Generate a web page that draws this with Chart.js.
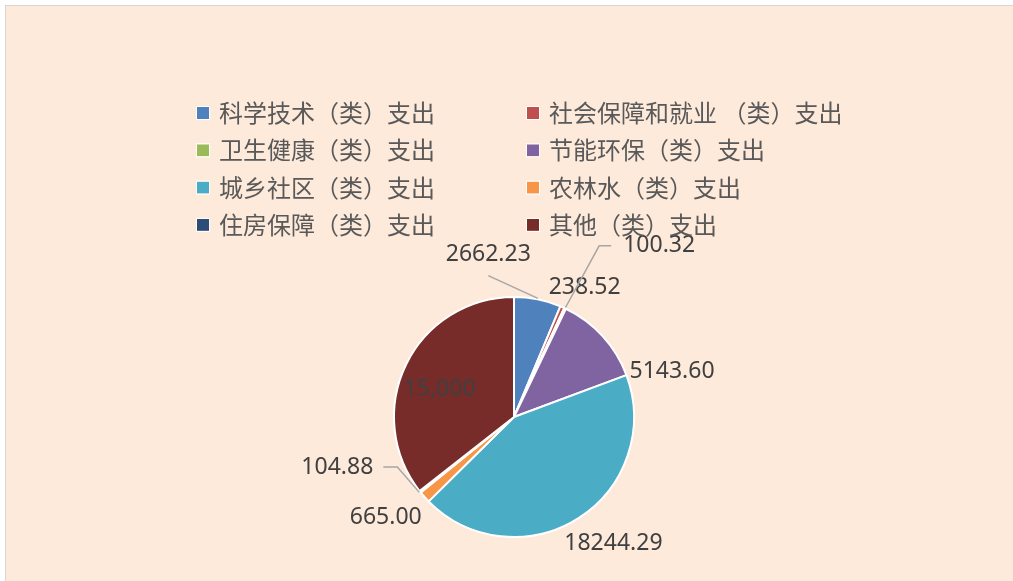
<!DOCTYPE html>
<html>
<head>
<meta charset="utf-8">
<script src="https://cdn.jsdelivr.net/npm/chart.js@4/dist/chart.umd.min.js"></script>
<style>
    html, body { margin: 0; padding: 0; background: #ffffff; }
    #frame {
        position: absolute; left: 5px; top: 5px; width: 1008px; height: 576px;
        background: #fdeadb; border-left: 1px solid #d6d6d6; border-top: 1px solid #d6d6d6;
    }
    #wrap { position: absolute; left: 0; top: 0; width: 1013px; height: 581px; }
</style>
</head>
<body>
<div id="frame"></div>
<div id="wrap"><canvas id="PieChart"></canvas></div>
<script>
const categories = [
    "科学技术（类）支出", "社会保障和就业 （类）支出",
    "卫生健康（类）支出", "节能环保（类）支出",
    "城乡社区（类）支出", "农林水（类）支出",
    "住房保障（类）支出", "其他（类）支出"
];
const values = [2662.23, 238.52, 100.32, 5143.60, 18244.29, 665.00, 104.88, 15000];
const colors = ["#4f81bd", "#c0504d", "#9bbb59", "#8064a2", "#4bacc6", "#f79646", "#2c4d75", "#772c2a"];

// value label text, 其他 is shown with a thousands separator
const valueText = values.map((v, i) => i === 7 ? v.toLocaleString("en-US") : v.toFixed(2));

// label placement: angle from 12 o'clock (deg, clockwise) and distance in radii
const labelAngle = [-9, 28.6, 40.3, 74, 141.8, 231.8, 254.2, 290];
const labelDist = [1.37, 1.23, 1.87, 1.37, 1.34, 1.36, 1.53, 0.66];

const labelFont = '23px "Noto Sans", "Open Sans", sans-serif';
const legendFont = '24px "Noto Sans CJK SC", sans-serif';

function polar(cx, cy, deg, r) {
    const a = (deg - 90) * Math.PI / 180;
    return { x: cx + r * Math.cos(a), y: cy + r * Math.sin(a) };
}

const valueLabels = {
    id: "valueLabels",
    afterDatasetsDraw(chart) {
        const ctx = chart.ctx;
        const arcs = chart.getDatasetMeta(0).data;
        ctx.save();
        ctx.font = labelFont;
        ctx.textBaseline = "middle";
        ctx.textAlign = "center";
        arcs.forEach((arc, i) => {
            const cx = arc.x, cy = arc.y, r = arc.outerRadius;
            const mid = ((arc.startAngle + arc.endAngle) / 2) * 180 / Math.PI + 90;
            const p = polar(cx, cy, labelAngle[i], r * labelDist[i]);
            const w = ctx.measureText(valueText[i]).width;
            const edge = polar(cx, cy, mid, r + 1);

            ctx.strokeStyle = "#a6a6a6";
            ctx.lineWidth = 1.5;
            if (i === 0) {
                ctx.beginPath();
                ctx.moveTo(edge.x, edge.y);
                ctx.lineTo(p.x, p.y + 21);
                ctx.stroke();
            } else if (i === 2) {
                const left = p.x - w / 2;
                ctx.beginPath();
                ctx.moveTo(edge.x, edge.y);
                ctx.lineTo(left - 24, p.y);
                ctx.lineTo(left - 12, p.y);
                ctx.stroke();
            } else if (i === 6) {
                const right = p.x + w / 2;
                ctx.beginPath();
                ctx.moveTo(edge.x, edge.y);
                ctx.lineTo(right + 24, p.y);
                ctx.lineTo(right + 10, p.y);
                ctx.stroke();
            }

            ctx.fillStyle = "#404040";
            ctx.fillText(valueText[i], p.x, p.y);
        });
        ctx.restore();
    },
};

const gridLegend = {
    id: "gridLegend",
    afterDraw(chart) {
        const ctx = chart.ctx;
        const labels = chart.data.labels;
        const bg = chart.data.datasets[0].backgroundColor;
        ctx.save();
        ctx.font = legendFont;
        ctx.textBaseline = "middle";
        ctx.textAlign = "left";
        labels.forEach((label, i) => {
            const x = i % 2 === 0 ? 197 : 527;
            const y = 113 + Math.floor(i / 2) * 37.3;
            ctx.fillStyle = bg[i];
            ctx.fillRect(x, y - 6, 12, 12);
            ctx.strokeStyle = "#ffffff";
            ctx.lineWidth = 1;
            ctx.strokeRect(x - 0.5, y - 6.5, 13, 13);
            ctx.fillStyle = "#595959";
            ctx.fillText(label, x + 22, y);
        });
        ctx.restore();
    },
};

function PieChart() {
    const ctx = document.getElementById("PieChart");

    new Chart(ctx, {
        type: "pie",
        data: {
            labels: categories,
            datasets: [
                {
                    data: values,
                    backgroundColor: colors,
                    borderColor: "#ffffff",
                    borderWidth: 2,
                    radius: 120,
                },
            ],
        },
        options: {
            responsive: true,
            maintainAspectRatio: false,
            animation: false,
            layout: {
                padding: { left: 115, right: 100, top: 280, bottom: 27 },
            },
            plugins: {
                legend: { display: false },
                tooltip: { enabled: true },
            },
        },
        plugins: [valueLabels, gridLegend],
    });
}

PieChart();
</script>
</body>
</html>
